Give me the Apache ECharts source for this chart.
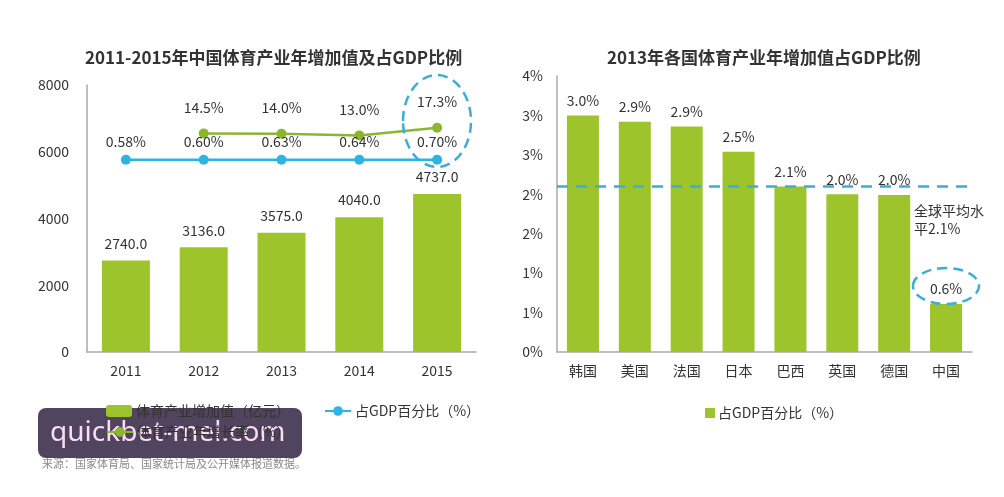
<!DOCTYPE html>
<html>
<head>
<meta charset="utf-8">
<title>体育产业增加值</title>
<script src="https://cdn.jsdelivr.net/npm/echarts@6/dist/echarts.min.js"></script>
<style>body{margin:0;background:#fff}</style>
</head>
<body>
<div id="main" style="width:1004px;height:497px"></div>
<script type="text/javascript">
// 左图：2011-2015年中国体育产业
var years = ['2011', '2012', '2013', '2014', '2015'];
var addedValue = [2740, 3136, 3575, 4040, 4737];          // 亿元
var growthRate = [null, 14.5, 14.0, 13.0, 17.3];          // %
var growthLevel = [null, 6550, 6540, 6490, 6720];         // 折线在左轴上的位置
var gdpShare = [0.58, 0.60, 0.63, 0.64, 0.70];            // %
var gdpShareLevel = [5760, 5760, 5760, 5760, 5760];

// 右图：2013年各国
var countries = ['韩国', '美国', '法国', '日本', '巴西', '英国', '德国', '中国'];
var countryShare = [3.0, 2.92, 2.86, 2.54, 2.1, 2.0, 1.99, 0.61];
var worldAvg = 2.1;

var FONT = '"Noto Sans CJK SC", "Noto Sans", sans-serif';
var GREEN = '#9dc42a';
var LINE_GREEN = '#8cb630';
var BLUE = '#2db4e2';
var DASH = '#3aaed8';
var TXT = '#333';

var myChart = echarts.init(document.getElementById('main'));

var option = {
  backgroundColor: '#fff',
  textStyle: { fontFamily: FONT },
  title: [
    { text: '2011-2015年中国体育产业年增加值及占GDP比例', left: 80, top: 44,
      textStyle: { fontFamily: FONT, fontSize: 17, fontWeight: 'bold', color: TXT } },
    { text: '2013年各国体育产业年增加值占GDP比例', left: 602, top: 44,
      textStyle: { fontFamily: FONT, fontSize: 17, fontWeight: 'bold', color: TXT } }
  ],
  legend: [
    { left: 101, top: 399, itemWidth: 26, itemHeight: 12, itemGap: 34,
      textStyle: { fontFamily: FONT, fontSize: 14, color: TXT, padding: [0, 0, 0, -1] },
      data: ['体育产业增加值（亿元）', '占GDP百分比（%）'] },
    { left: 101, top: 420, itemWidth: 26, itemHeight: 12,
      textStyle: { fontFamily: FONT, fontSize: 14, color: TXT, padding: [0, 0, 0, -1] },
      data: ['体育产业年增长率（%）'] },
    { left: 700, top: 401, itemWidth: 10, itemHeight: 10, icon: 'rect',
      textStyle: { fontFamily: FONT, fontSize: 14, color: TXT, padding: [0, 0, 0, -2] },
      data: [{ name: '占GDP百分比（%）', itemStyle: { color: GREEN } }] }
  ],
  grid: [
    { left: 87, right: 528, top: 85, bottom: 145 },
    { left: 557, right: 32, top: 76, bottom: 145 }
  ],
  xAxis: [
    { type: 'category', gridIndex: 0, data: years,
      axisLine: { lineStyle: { color: '#aaa', width: 1.5 } }, axisTick: { show: false },
      axisLabel: { fontFamily: FONT, fontSize: 14, color: TXT, margin: 12 } },
    { type: 'category', gridIndex: 1, data: countries,
      axisLine: { lineStyle: { color: '#aaa', width: 1.5 } }, axisTick: { show: false },
      axisLabel: { fontFamily: FONT, fontSize: 14, color: TXT, margin: 12 } }
  ],
  yAxis: [
    { type: 'value', gridIndex: 0, min: 0, max: 8000, interval: 2000,
      axisLine: { show: true, lineStyle: { color: '#aaa', width: 1.5 } }, axisTick: { show: false },
      splitLine: { show: false },
      axisLabel: { fontFamily: FONT, fontSize: 14, color: TXT, margin: 18,
        formatter: function (v) { return String(v); } } },
    { type: 'value', gridIndex: 1, min: 0, max: 3.5, interval: 0.5,
      axisLine: { show: true, lineStyle: { color: '#aaa', width: 1.5 } }, axisTick: { show: false },
      splitLine: { show: false },
      axisLabel: { fontFamily: FONT, fontSize: 14, color: TXT, margin: 14,
        formatter: function (v) { return Math.round(v) + '%'; } } }
  ],
  series: [
    { name: '体育产业增加值（亿元）', type: 'bar', xAxisIndex: 0, yAxisIndex: 0,
      data: addedValue, barWidth: 48, itemStyle: { color: GREEN },
      label: { show: true, position: 'top', distance: 10, fontFamily: FONT, fontSize: 14, color: TXT,
        formatter: function (p) { return p.value.toFixed(1); } } },
    { name: '体育产业年增长率（%）', type: 'line', xAxisIndex: 0, yAxisIndex: 0,
      data: growthLevel, symbol: 'circle', symbolSize: 10, z: 5,
      lineStyle: { color: LINE_GREEN, width: 2.5 }, itemStyle: { color: LINE_GREEN },
      label: { show: true, position: 'top', distance: 14, fontFamily: FONT, fontSize: 14, color: TXT,
        formatter: function (p) { return growthRate[p.dataIndex].toFixed(1) + '%'; } } },
    { name: '占GDP百分比（%）', type: 'line', xAxisIndex: 0, yAxisIndex: 0,
      data: gdpShareLevel, symbol: 'circle', symbolSize: 10, z: 5,
      lineStyle: { color: BLUE, width: 2.5 }, itemStyle: { color: BLUE },
      label: { show: true, position: 'top', distance: 6, fontFamily: FONT, fontSize: 14, color: TXT,
        formatter: function (p) { return gdpShare[p.dataIndex].toFixed(2) + '%'; } } },
    { name: '占GDP百分比（%）', type: 'bar', xAxisIndex: 1, yAxisIndex: 1,
      data: countryShare, barWidth: 32, itemStyle: { color: GREEN },
      label: { show: true, position: 'top', distance: 8, fontFamily: FONT, fontSize: 14, color: TXT,
        formatter: function (p) { return p.value.toFixed(1) + '%'; } },
      markLine: { silent: true, symbol: 'none', label: { show: false },
        lineStyle: { color: DASH, width: 2.5, type: [11, 8] },
        data: [{ yAxis: worldAvg }] } }
  ],
  graphic: [
    // 虚线圈
    { type: 'ellipse', shape: { cx: 437, cy: 121, rx: 34, ry: 46 }, z: 10,
      style: { fill: 'none', stroke: DASH, lineWidth: 2.5, lineDash: [10, 6] } },
    { type: 'ellipse', shape: { cx: 946, cy: 286, rx: 33, ry: 18 }, z: 10,
      style: { fill: 'none', stroke: DASH, lineWidth: 2.5, lineDash: [10, 6] } },
    { type: 'text', left: 914, top: 202, z: 10,
      style: { text: '全球平均水\n平2.1%', font: '14px ' + FONT, fill: TXT, lineHeight: 18 } },
    // 来源
    { type: 'text', left: 42, top: 458,
      style: { text: '来源：国家体育局、国家统计局及公开媒体报道数据。', font: '11px ' + FONT, fill: '#8a8a8a' } },
    // 水印
    { type: 'group', left: 38, top: 408, z: 100, children: [
      { type: 'rect', shape: { x: 0, y: 0, width: 264, height: 50, r: 8 },
        style: { fill: 'rgba(68,54,82,0.93)' } },
      { type: 'text', x: 12, y: 25,
        style: { text: 'quickbet-mel.com', font: '28px "Noto Sans", sans-serif', fill: '#f7dcf2',
          textVerticalAlign: 'middle', verticalAlign: 'middle' } }
    ] }
  ]
};

myChart.setOption(option);
</script>
</body>
</html>
